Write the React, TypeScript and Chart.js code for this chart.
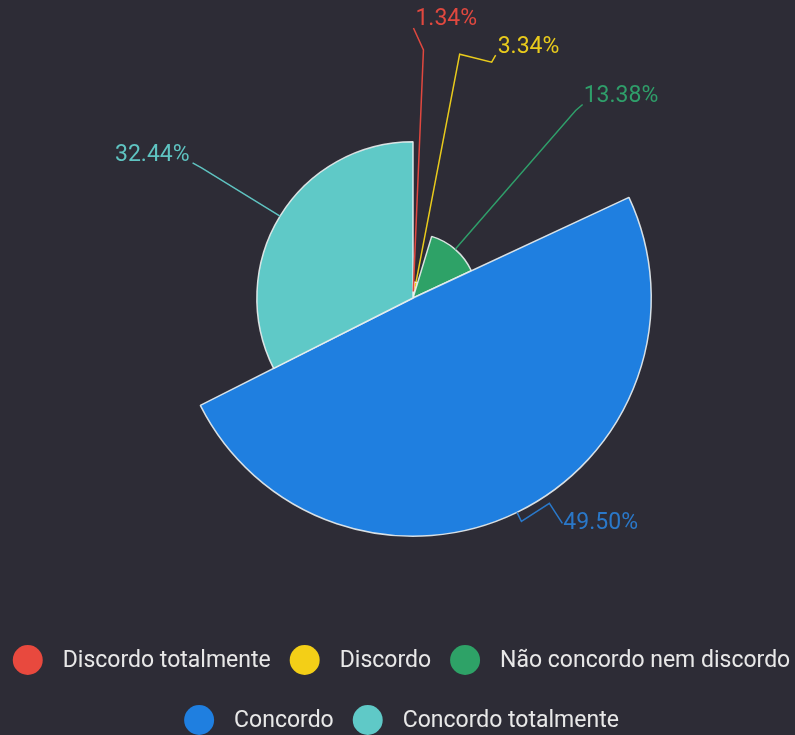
import React, { useEffect, useRef } from "react";
import { Chart, registerables } from "chart.js";

Chart.register(...registerables);

// ---- data ----
const categories = [
  "Discordo totalmente",
  "Discordo",
  "Não concordo nem discordo",
  "Concordo",
  "Concordo totalmente",
];
const percentages = [1.34, 3.34, 13.38, 49.5, 32.44];
const sliceColors = ["#e8493e", "#f3cf17", "#2ea267", "#1f7fe0", "#5fc9c7"];
const labelColors = ["#e0483f", "#e9cb1c", "#2f9e6a", "#2a78c9", "#5fc3c1"];

// ---- label leader-line layout (offsets relative to the radial anchor) ----
const labelPaths: number[][][] = [
  [[-10, -22]],
  [[32, 8], [36, 1]],
  [[7, -6]],
  [[28, -18], [41, 2]],
  [[-9, -5]],
];
const labelTextOffsets: number[][] = [
  [2, -9],
  [2, -8],
  [1, -8],
  [1, 0],
  [-3, -8],
];

const BG = "#2d2c36";
const W = 795;
const H = 735;

// rose: radius proportional to value
const rosePlugin = {
  id: "roseRadius",
  afterDatasetUpdate(chart: any, args: any) {
    const meta = chart.getDatasetMeta(args.index);
    const data = chart.data.datasets[args.index].data as number[];
    const maxV = Math.max(...data);
    const full = meta.controller.outerRadius;
    meta.data.forEach((arc: any, i: number) => {
      arc.outerRadius = (full * data[i]) / maxV;
    });
  },
};

const labelPlugin = {
  id: "outsideLabels",
  afterDatasetsDraw(chart: any) {
    const ctx = chart.ctx;
    const meta = chart.getDatasetMeta(0);
    const R = meta.controller.outerRadius;
    const data = chart.data.datasets[0].data as number[];
    ctx.save();
    ctx.font = "23px Roboto";
    ctx.textBaseline = "middle";
    meta.data.forEach((arc: any, i: number) => {
      const mid = (arc.startAngle + arc.endAngle) / 2;
      const cx = arc.x, cy = arc.y;
      const ex = cx + Math.cos(mid) * arc.outerRadius;
      const ey = cy + Math.sin(mid) * arc.outerRadius;
      const ax = cx + Math.cos(mid) * (R + 10);
      const ay = cy + Math.sin(mid) * (R + 10);
      const right = Math.cos(mid) >= 0;
      const col = labelColors[i];
      ctx.strokeStyle = col;
      ctx.lineWidth = 1.5;
      ctx.beginPath();
      ctx.moveTo(ex, ey);
      ctx.lineTo(ax, ay);
      let lx = ax, ly = ay;
      (labelPaths[i] || []).forEach(([dx, dy]) => {
        lx = ax + dx;
        ly = ay + dy;
        ctx.lineTo(lx, ly);
      });
      ctx.stroke();
      const [tdx, tdy] = labelTextOffsets[i] || [0, 0];
      ctx.fillStyle = col;
      ctx.textAlign = right ? "left" : "right";
      ctx.fillText(data[i].toFixed(2) + "%", lx + tdx, ly + tdy);
    });
    ctx.restore();
  },
};

const legendPlugin = {
  id: "circleLegend",
  afterDraw(chart: any) {
    const ctx = chart.ctx;
    const labels = chart.data.labels as string[];
    const colors = chart.data.datasets[0].backgroundColor as string[];
    const r = 15;
    const gapText = 20;
    const gapItem = 19;
    ctx.save();
    ctx.font = "23px Roboto";
    ctx.textBaseline = "middle";
    ctx.textAlign = "left";
    const widths = labels.map((l) => 2 * r + gapText + ctx.measureText(l).width);
    const rows: number[][] = [[]];
    let cur = 0;
    const maxW = chart.width;
    widths.forEach((w, i) => {
      const row = rows[rows.length - 1];
      const add = (row.length ? gapItem : 0) + w;
      if (row.length && cur + add > maxW) {
        rows.push([i]);
        cur = w;
      } else {
        row.push(i);
        cur += add;
      }
    });
    const rowY = [chart.height - 75, chart.height - 15];
    rows.forEach((row, ri) => {
      const total = row.reduce((s, i) => s + widths[i], 0) + gapItem * (row.length - 1);
      let x = chart.width / 2 - total / 2 + 4;
      const y = rowY[ri] ?? chart.height - 75 + ri * 60;
      row.forEach((i) => {
        ctx.fillStyle = colors[i];
        ctx.beginPath();
        ctx.arc(x + r, y, r, 0, Math.PI * 2);
        ctx.fill();
        ctx.fillStyle = "#e8e8e8";
        ctx.fillText(labels[i], x + 2 * r + gapText, y + 1);
        x += widths[i] + gapItem;
      });
    });
    ctx.restore();
  },
};

export default function App() {
  const ref = useRef<HTMLCanvasElement | null>(null);
  useEffect(() => {
    if (!ref.current) return;
    const chart = new Chart(ref.current, {
      type: "pie",
      data: {
        labels: categories,
        datasets: [
          {
            data: percentages,
            backgroundColor: sliceColors,
            borderColor: "rgba(235,240,240,0.9)",
            borderWidth: 1.5,
          },
        ],
      },
      options: {
        responsive: false,
        animation: false,
        layout: { padding: { top: 59, bottom: 198, left: 174, right: 143 } },
        plugins: {
          legend: { display: false },
          tooltip: { enabled: false },
        },
      },
      plugins: [rosePlugin, labelPlugin, legendPlugin],
    });
    return () => chart.destroy();
  }, []);
  return (
    <div
      style={{
        position: "fixed",
        left: 0,
        top: 0,
        width: W,
        height: H,
        background: BG,
      }}
    >
      <canvas ref={ref} width={W} height={H} style={{ display: "block" }} />
    </div>
  );
}
